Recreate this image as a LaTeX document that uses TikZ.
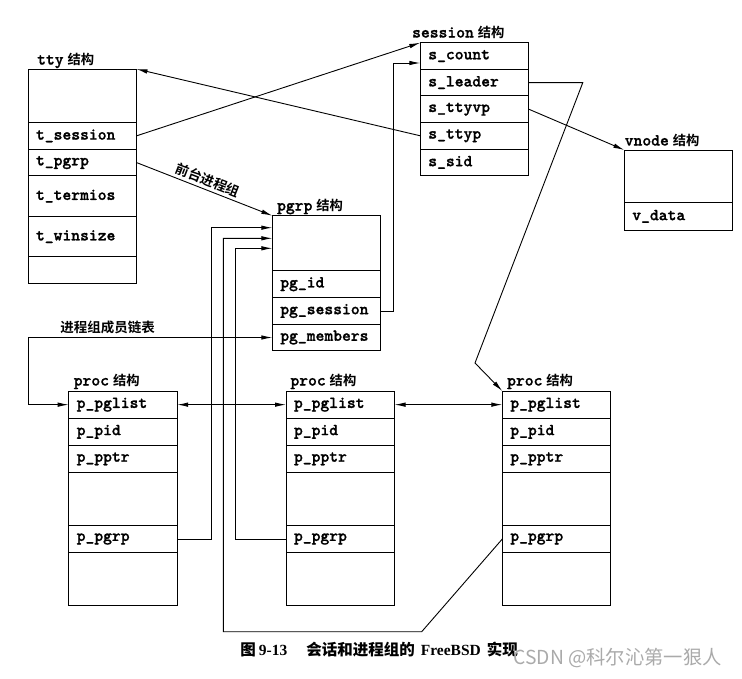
\documentclass[tikz,border=0pt]{standalone}
\usepackage{fontspec}
\usetikzlibrary{arrows.meta,positioning}
\newfontfamily\cjk{Noto Sans CJK SC}
\newfontfamily\cjkbf{Noto Sans CJK SC Bold}
\newfontfamily\capserif{Liberation Serif}
\newfontfamily\fldtt{lmmonolt10-bold.otf}[FakeBold=1.2]
\definecolor{mark_gray}{RGB}{170,170,170}
\newcommand\fldfont{\fldtt\fontsize{16.8}{18}\selectfont}
\newcommand\jg{\hspace{4pt}{\cjkbf\fontsize{13.3}{14}\selectfont 结构}}

\begin{document}
\begin{tikzpicture}[->,line width=0.9pt,>={Latex[length=11pt,width=4.5pt]},x=1pt,y=-1pt]
    \tikzstyle{fld}=[draw, outer sep=0pt, text width=92.5pt, inner xsep=8pt, inner ysep=0pt, minimum height=26.7pt, align=left, font=\fldfont]
    \tikzstyle{ttl}=[anchor=base west, inner sep=0pt, font=\fldfont]
    \tikzstyle{lbl}=[inner sep=3pt, font=\cjkbf\fontsize{13.5}{15}\selectfont]

    \useasboundingbox (0,0) rectangle (742,678);

    \node[ttl] (ttyt) at (36.7,64.5) {tty\jg};
    \node[fld, anchor=north west, minimum height=53.5pt] (tty0) at (28,69) {};
    \node[fld, below=0pt of tty0] (tses) {t\_session};
    \node[fld, below=0pt of tses] (tpg) {t\_pgrp};
    \node[fld, below=0pt of tpg, minimum height=40.5pt] (tterm) {t\_termios};
    \node[fld, below=0pt of tterm, minimum height=40.5pt] (twin) {t\_winsize};
    \node[fld, below=0pt of twin] (tty5) {};

    \node[ttl] (sest) at (411.7,37.5) {session\jg};
    \node[fld, anchor=north west, minimum height=26.6pt] (ss0) at (420.3,42.7) {s\_count};
    \node[fld, below=0pt of ss0, minimum height=26.6pt] (ssl) {s\_leader};
    \node[fld, below=0pt of ssl, minimum height=26.6pt] (ssv) {s\_ttyvp};
    \node[fld, below=0pt of ssv, minimum height=26.6pt] (sst) {s\_ttyp};
    \node[fld, below=0pt of sst, minimum height=26.6pt] (ssd) {s\_sid};

    \node[ttl] (vnt) at (624.3,145.5) {vnode\jg};
    \node[fld, anchor=north west, minimum height=52.7pt] (vn0) at (624.3,150) {};
    \node[fld, below=0pt of vn0, minimum height=27.3pt] (vnd) {v\_data};

    \node[ttl] (pgt) at (276.7,210.5) {pgrp\jg};
    \node[fld, anchor=north west, minimum height=55pt] (pg0) at (272.3,215.7) {};
    \node[fld, below=0pt of pg0, minimum height=27pt] (pgi) {pg\_id};
    \node[fld, below=0pt of pgi, minimum height=26.6pt] (pgs) {pg\_session};
    \node[fld, below=0pt of pgs, minimum height=26.4pt] (pgm) {pg\_members};

    \node[ttl] (pt1t) at (73.3,385.5) {proc\jg};
    \node[fld, anchor=north west, minimum height=27.3pt] (pl1) at (68.7,391) {p\_pglist};
    \node[fld, below=0pt of pl1, minimum height=27pt] (pi1) {p\_pid};
    \node[fld, below=0pt of pi1, minimum height=27pt] (pt1) {p\_pptr};
    \node[fld, below=0pt of pt1, minimum height=53.4pt] (pb1) {};
    \node[fld, below=0pt of pb1, minimum height=26.6pt] (pp1) {p\_pgrp};
    \node[fld, below=0pt of pp1, minimum height=53.4pt] (pe1) {};

    \node[ttl] (pt2t) at (290,385.5) {proc\jg};
    \node[fld, anchor=north west, minimum height=27.3pt] (pl2) at (286,391) {p\_pglist};
    \node[fld, below=0pt of pl2, minimum height=27pt] (pi2) {p\_pid};
    \node[fld, below=0pt of pi2, minimum height=27pt] (pt2) {p\_pptr};
    \node[fld, below=0pt of pt2, minimum height=53.4pt] (pb2) {};
    \node[fld, below=0pt of pb2, minimum height=26.6pt] (pp2) {p\_pgrp};
    \node[fld, below=0pt of pp2, minimum height=53.4pt] (pe2) {};

    \node[ttl] (pt3t) at (506.7,385.5) {proc\jg};
    \node[fld, anchor=north west, minimum height=27.3pt] (pl3) at (502.3,391) {p\_pglist};
    \node[fld, below=0pt of pl3, minimum height=27pt] (pi3) {p\_pid};
    \node[fld, below=0pt of pi3, minimum height=27pt] (pt3) {p\_pptr};
    \node[fld, below=0pt of pt3, minimum height=53.4pt] (pb3) {};
    \node[fld, below=0pt of pb3, minimum height=26.6pt] (pp3) {p\_pgrp};
    \node[fld, below=0pt of pp3, minimum height=53.4pt] (pe3) {};

    \node[lbl, anchor=west, inner sep=0pt] (mlist) at (60,327.7) {进程组成员链表};

    \coordinate (bend) at (475,363);
    \coordinate (low) at (421.7,631.7);

    \path
     (tses.east) edge[] (ss0.north west)
     (sst.west) edge[] (tty0.north east)
     (tpg.east) edge[] node[lbl, sloped, above] {前台进程组} (pg0.north west)
     (ssv.east) edge[] (vn0.north west)
     (pl1.east) edge[<->] (pl2.west)
     (pl2.east) edge[<->] (pl3.west)
     ;
    \draw (pgs.east) -- ++(13,0) |- ([yshift=-7pt]ss0.west);
    \draw (ssl.east) -- ++(54,0) -- (bend) -- (pl3.north west);
    \draw[<->] (pgm.west) -- ++(-244.3,0) |- (pl1.west);
    \draw (pp1.east) -- ++(34,0) |- ([yshift=-12pt]pg0.north west);
    \draw (pp2.west) -- ++(-51,0) |- ([yshift=-32.6pt]pg0.north west);
    \draw (pp3.west) -- (low) -- ++(-198.4,0) |- ([yshift=-22.6pt]pg0.north west);

    \node[anchor=west, inner sep=0pt, font=\capserif\bfseries\fontsize{15.5}{17}\selectfont] (cap) at (240,650)
     {{\cjk 图}\hspace{3pt}9-13\hspace{19pt}{\cjk 会话和进程组的}\hspace{6pt}FreeBSD\hspace{6pt}{\cjk 实现}};
    \node[anchor=west, inner sep=0pt, text=mark_gray, font=\cjk\fontsize{19.3}{21}\selectfont] (wmark) at (513,658) {CSDN @科尔沁第一狠人};
  \end{tikzpicture}
\end{document}
